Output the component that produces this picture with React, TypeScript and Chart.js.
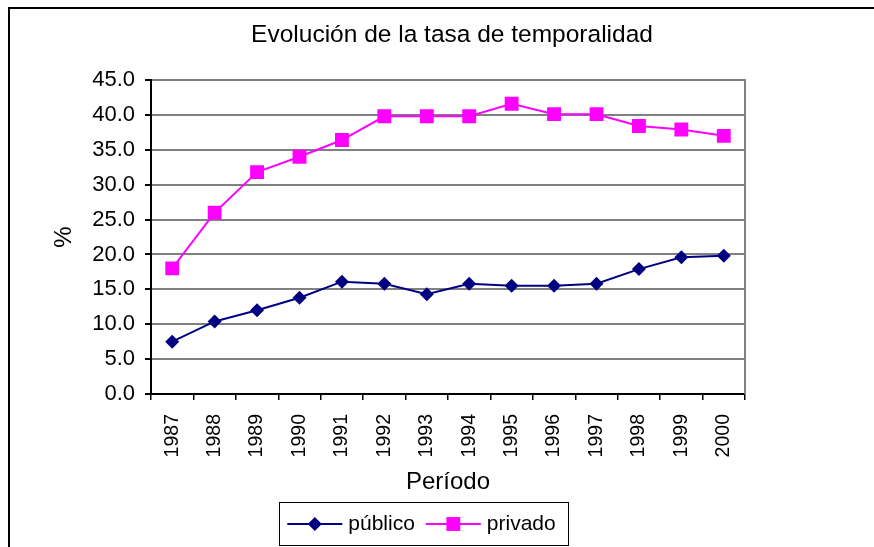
import React, { useEffect, useRef } from "react";
import { Chart, registerables } from "chart.js";

Chart.register(...registerables);

const titleText = "Evolución de la tasa de temporalidad";
const xTitle = "Período";
const yTitle = "%";
const years = ["1987", "1988", "1989", "1990", "1991", "1992", "1993", "1994", "1995", "1996", "1997", "1998", "1999", "2000"];
const publico = [7.5, 10.4, 12.0, 13.8, 16.1, 15.8, 14.3, 15.8, 15.5, 15.5, 15.8, 17.9, 19.6, 19.8];
const privado = [18.0, 26.0, 31.8, 34.0, 36.4, 39.8, 39.8, 39.8, 41.6, 40.1, 40.1, 38.4, 37.9, 37.0];
const yMin = 0;
const yMax = 45;
const yStep = 5;

const FONT = "'Liberation Sans', Arial, sans-serif";

const framePlugin = {
  id: "framePlugin",
  afterDraw(chart: any) {
    const { ctx, chartArea } = chart;
    ctx.save();
    // right border of plot area
    ctx.strokeStyle = "#808080";
    ctx.lineWidth = 2;
    ctx.beginPath();
    ctx.moveTo(chartArea.right, chartArea.top - 1);
    ctx.lineTo(chartArea.right, chartArea.bottom);
    ctx.stroke();

    // title
    ctx.fillStyle = "#000";
    ctx.font = `24.5px ${FONT}`;
    ctx.textAlign = "center";
    ctx.textBaseline = "alphabetic";
    ctx.fillText(titleText, (chartArea.left + chartArea.right) / 2 + 4, 42);

    // legend
    const ds = chart.data.datasets;
    ctx.font = `21px ${FONT}`;
    const lineLen = 55;
    const padL = 8;
    const gapText = 6;
    const gapItem = 11;
    const padR = 13;
    const widths = ds.map((d: any) => ctx.measureText(d.label).width);
    let total = padL + padR;
    ds.forEach((d: any, i: number) => {
      total += lineLen + gapText + widths[i] + (i < ds.length - 1 ? gapItem : 0);
    });
    const boxLeft = 424 - total / 2;
    const boxTop = 502;
    const boxH = 43;
    ctx.strokeStyle = "#000";
    ctx.lineWidth = 1;
    ctx.strokeRect(Math.round(boxLeft) + 0.5, boxTop + 0.5, Math.round(total), boxH);
    const cy = boxTop + boxH / 2 + 0.5;
    let x = boxLeft + padL;
    ds.forEach((d: any, i: number) => {
      ctx.strokeStyle = d.borderColor;
      ctx.lineWidth = 2;
      ctx.beginPath();
      ctx.moveTo(x, cy);
      ctx.lineTo(x + lineLen, cy);
      ctx.stroke();
      ctx.fillStyle = d.pointBackgroundColor;
      ctx.beginPath();
      const mx = x + lineLen / 2;
      if (d.pointStyle === "rectRot") {
        const r = d.pointRadius;
        ctx.moveTo(mx - r, cy);
        ctx.lineTo(mx, cy - r);
        ctx.lineTo(mx + r, cy);
        ctx.lineTo(mx, cy + r);
        ctx.closePath();
      } else {
        const s = d.pointRadius * Math.SQRT1_2;
        ctx.rect(mx - s, cy - s, 2 * s, 2 * s);
      }
      ctx.fill();
      ctx.fillStyle = "#000";
      ctx.textAlign = "left";
      ctx.textBaseline = "middle";
      ctx.fillText(d.label, x + lineLen + gapText, cy);
      x += lineLen + gapText + widths[i] + gapItem;
    });
    ctx.restore();
  },
};

export default function App() {
  const ref = useRef<HTMLCanvasElement>(null);

  useEffect(() => {
    if (!ref.current) return;
    const chart = new Chart(ref.current, {
      type: "line",
      data: {
        labels: years,
        datasets: [
          {
            label: "público",
            data: publico,
            borderColor: "#000080",
            backgroundColor: "#000080",
            pointBackgroundColor: "#000080",
            pointBorderColor: "#000080",
            pointBorderWidth: 0,
            borderWidth: 2,
            pointStyle: "rectRot",
            pointRadius: 7,
            tension: 0,
          } as any,
          {
            label: "privado",
            data: privado,
            borderColor: "#FF00FF",
            backgroundColor: "#FF00FF",
            pointBackgroundColor: "#FF00FF",
            pointBorderColor: "#FF00FF",
            pointBorderWidth: 0,
            borderWidth: 2,
            pointStyle: "rect",
            pointRadius: 9.8,
            tension: 0,
          } as any,
        ],
      },
      options: {
        responsive: false,
        animation: false,
        layout: { padding: { left: 0, right: 129, top: 80, bottom: 0 } },
        plugins: {
          legend: { display: false },
          title: { display: false },
          tooltip: { enabled: false },
        },
        scales: {
          x: {
            type: "category",
            offset: true,
            grid: {
              offset: true,
              drawOnChartArea: false,
              drawTicks: true,
              tickLength: 6,
              tickColor: "#000",
              color: "#000",
              lineWidth: 1.5,
            },
            border: { display: true, color: "#000", width: 2 },
            ticks: {
              color: "#000",
              font: { family: FONT, size: 19.5 },
              minRotation: 90,
              maxRotation: 90,
              padding: 14,
              autoSkip: false,
            },
            title: {
              display: true,
              text: xTitle,
              color: "#000",
              font: { family: FONT, size: 24 },
              padding: { top: 0, bottom: 50 },
            },
            afterFit(scale: any) {
              scale.height = 153;
            },
          } as any,
          y: {
            min: yMin,
            max: yMax,
            grid: {
              color: "#808080",
              lineWidth: 2,
              drawTicks: true,
              tickLength: 6,
              tickColor: "#000",
            },
            border: { display: true, color: "#000", width: 2 },
            ticks: {
              stepSize: yStep,
              color: "#000",
              font: { family: FONT, size: 22 },
              padding: 10,
              callback: (v: any) => Number(v).toFixed(1),
            },
            title: {
              display: true,
              text: yTitle,
              color: "#000",
              font: { family: FONT, size: 24 },
              padding: { top: 50, bottom: 0 },
            },
            afterFit(scale: any) {
              scale.width = 151;
            },
          } as any,
        },
      },
      plugins: [framePlugin],
    });
    return () => chart.destroy();
  }, []);

  return (
    <div style={{ position: "absolute", left: 0, top: 0, width: 874, height: 547, background: "#fff" }}>
      <canvas ref={ref} width={874} height={547} style={{ position: "absolute", left: 0, top: 0 }} />
      <div
        style={{
          position: "absolute",
          left: 8,
          top: 7,
          width: 880,
          height: 560,
          borderTop: "2px solid #000",
          borderLeft: "2px solid #000",
          pointerEvents: "none",
        }}
      />
    </div>
  );
}
